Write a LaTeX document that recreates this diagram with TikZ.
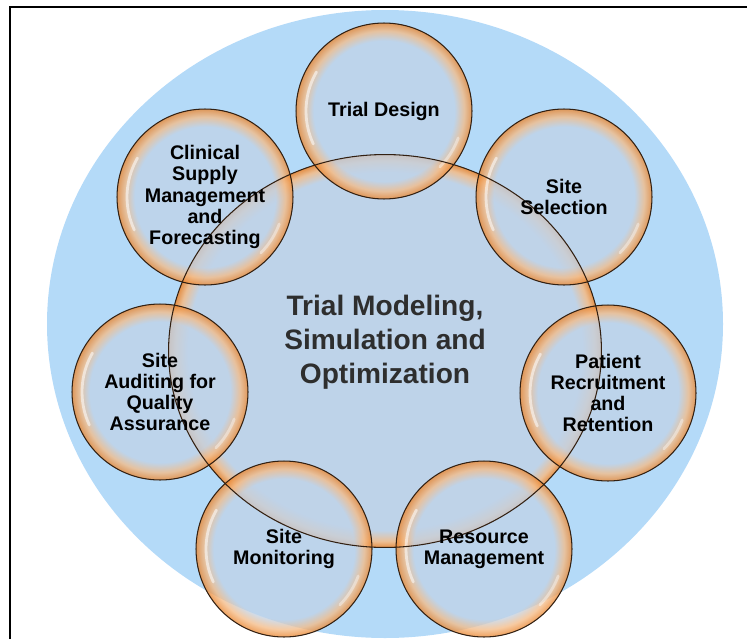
\documentclass[tikz,border=0pt]{standalone}
\usepackage{fontspec}
\setmainfont{Liberation Sans}
\usetikzlibrary{shapes.geometric}

\definecolor{skyback}{RGB}{180,218,248}
\definecolor{bubfill}{RGB}{192,211,232}
\definecolor{bubsoft}{RGB}{244,188,136}
\definecolor{bubrim}{RGB}{234,134,48}
\definecolor{bubline}{RGB}{50,32,18}

\pgfdeclareradialshading{smallbub}{\pgfpointorigin}{color(0bp)=(bubfill); color(20bp)=(bubfill); color(22.8bp)=(bubsoft); color(25bp)=(bubrim); color(50bp)=(bubrim)}
\pgfdeclareradialshading{bigbub}{\pgfpointorigin}{color(0bp)=(bubfill); color(22.8bp)=(bubfill); color(24.2bp)=(bubsoft); color(25bp)=(bubrim); color(50bp)=(bubrim)}

\pgfdeclarelayer{back}
\pgfdeclarelayer{glow}
\pgfsetlayers{back,glow,main}

\tikzset{
  bubble/.style={circle, draw=bubline, line width=0.6pt, minimum size=3.52cm, inner sep=0pt,
    align=center, font=\fontsize{11.2}{12.1}\selectfont\bfseries},
  hub/.style={ellipse, draw=bubline, line width=0.6pt, minimum width=8.66cm, minimum height=7.86cm, inner sep=0pt},
  hubtext/.style={align=center, text=black!82, font=\fontsize{16}{19.3}\selectfont\bfseries},
  glowfill/.style={shading=smallbub, fill opacity=0.78},
  shine/.style={white, opacity=0.55, line width=1.6pt, line cap=round}
}

\begin{document}
\begin{tikzpicture}[x=0.02cm, y=-0.02cm]
\useasboundingbox (0,0) rectangle (747,639);
\clip (0,0) rectangle (747,639);

% backdrop
\begin{pgfonlayer}{back}
\fill[skyback] (385,324) ellipse [x radius=338, y radius=314];
\end{pgfonlayer}

% frame
\draw[line width=1.2pt] (10,639) -- (10,7) -- (747,7);

% centre
\node[hub] (hub) at (385,351) {};
\node[hubtext] (hublabel) at (385,342) {Trial Modeling,\\Simulation and\\Optimization};

% satellites
\node[bubble] (design) at (384,111) {Trial Design};
\node[bubble] (select) at (564,197) {Site\\Selection};
\node[bubble] (patient) at (608,393) {Patient\\Recruitment\\and\\Retention};
\node[bubble] (resource) at (484,549) {Resource\\Management};
\node[bubble] (monitor) at (284,549) {Site\\Monitoring};
\node[bubble] (audit) at (160,392) {Site\\Auditing for\\Quality\\Assurance};
\node[bubble] (supply) at (205,197) {Clinical\\Supply\\Management\\and\\Forecasting};

% glow under the outlines
\begin{pgfonlayer}{glow}
\shade[shading=bigbub, fill opacity=0.88] (hub.center) ellipse [x radius=216.5, y radius=196.5];
\foreach \n in {design,select,patient,resource,monitor,audit,supply}{
  \shade[glowfill] (\n.center) circle [radius=88];
  \draw[shine] ([shift={(150:1.56cm)}]\n.center) arc [start angle=150, end angle=205, radius=1.56cm];
  \draw[shine, opacity=0.4] ([shift={(-20:1.58cm)}]\n.center) arc [start angle=-20, end angle=-45, radius=1.58cm];
}
\end{pgfonlayer}
\end{tikzpicture}
\end{document}
